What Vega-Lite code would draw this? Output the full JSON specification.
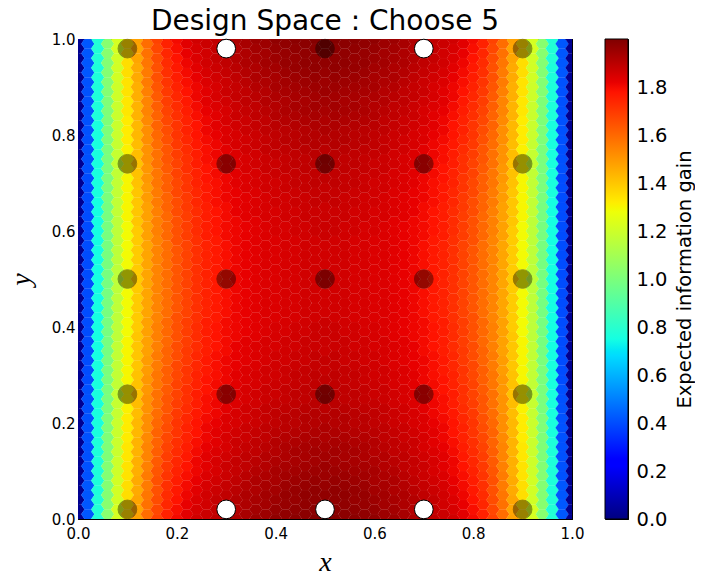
{
  "$schema": "https://vega.github.io/schema/vega-lite/v6.json",
  "background": "white",
  "padding": {"left": 6, "top": 7, "right": 0, "bottom": 0},
  "config": {
    "font": "DejaVu Sans",
    "view": {"stroke": "black", "strokeWidth": 1},
    "axis": {"labelFont": "DejaVu Sans", "labelFontSize": 15, "labelColor": "black", "titleColor": "black", "domainColor": "black", "tickColor": "black", "grid": false, "tickSize": -5, "labelPadding": 12, "labelFlush": false},
    "concat": {"spacing": 19}
  },
  "datasets": {
    "cols": [
      {"x":0,"p":0,"par":0},{"x":0.02,"p":1,"par":1},{"x":0.04,"p":2,"par":0},{"x":0.06,"p":3,"par":1},{"x":0.08,"p":4,"par":0},{"x":0.1,"p":5,"par":1},{"x":0.12,"p":6,"par":0},{"x":0.14,"p":7,"par":1},{"x":0.16,"p":8,"par":0},{"x":0.18,"p":9,"par":1},{"x":0.2,"p":10,"par":0},{"x":0.22,"p":11,"par":1},{"x":0.24,"p":12,"par":0},{"x":0.26,"p":13,"par":1},{"x":0.28,"p":14,"par":0},{"x":0.3,"p":15,"par":1},{"x":0.32,"p":16,"par":0},{"x":0.34,"p":17,"par":1},{"x":0.36,"p":18,"par":0},{"x":0.38,"p":19,"par":1},{"x":0.4,"p":20,"par":0},{"x":0.42,"p":21,"par":1},{"x":0.44,"p":22,"par":0},{"x":0.46,"p":23,"par":1},{"x":0.48,"p":24,"par":0},{"x":0.5,"p":25,"par":1},{"x":0.52,"p":24,"par":0},{"x":0.54,"p":23,"par":1},{"x":0.56,"p":22,"par":0},{"x":0.58,"p":21,"par":1},{"x":0.6,"p":20,"par":0},{"x":0.62,"p":19,"par":1},{"x":0.64,"p":18,"par":0},{"x":0.66,"p":17,"par":1},{"x":0.68,"p":16,"par":0},{"x":0.7,"p":15,"par":1},{"x":0.72,"p":14,"par":0},{"x":0.74,"p":13,"par":1},{"x":0.76,"p":12,"par":0},{"x":0.78,"p":11,"par":1},{"x":0.8,"p":10,"par":0},{"x":0.82,"p":9,"par":1},{"x":0.84,"p":8,"par":0},{"x":0.86,"p":7,"par":1},{"x":0.88,"p":6,"par":0},{"x":0.9,"p":5,"par":1},{"x":0.92,"p":4,"par":0},{"x":0.94,"p":3,"par":1},{"x":0.96,"p":2,"par":0},{"x":0.98,"p":1,"par":1},{"x":1,"p":0,"par":0}
    ],
    "ys": [
      {"par":0,"y":[0,0.02,0.04,0.06,0.08,0.1,0.12,0.14,0.16,0.18,0.2,0.22,0.24,0.26,0.28,0.3,0.32,0.34,0.36,0.38,0.4,0.42,0.44,0.46,0.48,0.5,0.52,0.54,0.56,0.58,0.6,0.62,0.64,0.66,0.68,0.7,0.72,0.74,0.76,0.78,0.8,0.82,0.84,0.86,0.88,0.9,0.92,0.94,0.96,0.98,1]},
      {"par":1,"y":[-0.01,0.01,0.03,0.05,0.07,0.09,0.11,0.13,0.15,0.17,0.19,0.21,0.23,0.25,0.27,0.29,0.31,0.33,0.35,0.37,0.39,0.41,0.43,0.45,0.47,0.49,0.51,0.53,0.55,0.57,0.59,0.61,0.63,0.65,0.67,0.69,0.71,0.73,0.75,0.77,0.79,0.81,0.83,0.85,0.87,0.89,0.91,0.93,0.95,0.97,0.99,1.01]}
    ],
    "profiles": [
      {"p":0,"v":[0.03,0.03,0.03,0.03,0.03,0.03,0.03,0.03,0.03,0.03,0.03,0.03,0.03,0.03,0.03,0.03,0.03,0.03,0.03,0.03,0.03,0.03,0.03,0.03,0.03,0.03,0.03,0.03,0.03,0.03,0.03,0.03,0.03,0.03,0.03,0.03,0.03,0.03,0.03,0.03,0.03,0.03,0.03,0.03,0.03,0.03,0.03,0.03,0.03,0.03,0.03]},
      {"p":1,"v":[0.42,0.42,0.42,0.42,0.42,0.41,0.41,0.41,0.41,0.41,0.41,0.41,0.41,0.41,0.41,0.4,0.4,0.4,0.4,0.4,0.4,0.4,0.4,0.4,0.4,0.4,0.4,0.4,0.4,0.4,0.4,0.4,0.4,0.4,0.4,0.4,0.4,0.41,0.41,0.41,0.41,0.41,0.41,0.41,0.41,0.41,0.41,0.42,0.42,0.42,0.42,0.42]},
      {"p":2,"v":[0.78,0.78,0.78,0.77,0.77,0.77,0.77,0.77,0.77,0.76,0.76,0.76,0.76,0.76,0.76,0.76,0.76,0.75,0.75,0.75,0.75,0.75,0.75,0.75,0.75,0.75,0.75,0.75,0.75,0.75,0.75,0.75,0.75,0.75,0.76,0.76,0.76,0.76,0.76,0.76,0.76,0.76,0.77,0.77,0.77,0.77,0.77,0.77,0.78,0.78,0.78]},
      {"p":3,"v":[1.03,1.03,1.03,1.02,1.02,1.02,1.02,1.01,1.01,1.01,1.01,1.01,1,1,1,1,1,1,0.99,0.99,0.99,0.99,0.99,0.99,0.99,0.99,0.99,0.99,0.99,0.99,0.99,0.99,0.99,0.99,1,1,1,1,1,1,1.01,1.01,1.01,1.01,1.01,1.02,1.02,1.02,1.02,1.03,1.03,1.03]},
      {"p":4,"v":[1.22,1.22,1.21,1.21,1.21,1.2,1.2,1.19,1.19,1.19,1.19,1.18,1.18,1.18,1.17,1.17,1.17,1.17,1.17,1.16,1.16,1.16,1.16,1.16,1.16,1.16,1.16,1.16,1.16,1.16,1.16,1.16,1.17,1.17,1.17,1.17,1.17,1.18,1.18,1.18,1.19,1.19,1.19,1.19,1.2,1.2,1.21,1.21,1.21,1.22,1.22]},
      {"p":5,"v":[1.36,1.36,1.35,1.35,1.35,1.34,1.34,1.33,1.33,1.32,1.32,1.32,1.31,1.31,1.31,1.3,1.3,1.3,1.3,1.3,1.29,1.29,1.29,1.29,1.29,1.29,1.29,1.29,1.29,1.29,1.29,1.29,1.3,1.3,1.3,1.3,1.3,1.31,1.31,1.31,1.32,1.32,1.32,1.33,1.33,1.34,1.34,1.35,1.35,1.35,1.36,1.36]},
      {"p":6,"v":[1.48,1.47,1.47,1.46,1.46,1.45,1.45,1.44,1.44,1.43,1.43,1.42,1.42,1.41,1.41,1.41,1.4,1.4,1.4,1.4,1.39,1.39,1.39,1.39,1.39,1.39,1.39,1.39,1.39,1.39,1.39,1.4,1.4,1.4,1.4,1.41,1.41,1.41,1.42,1.42,1.43,1.43,1.44,1.44,1.45,1.45,1.46,1.46,1.47,1.47,1.48]},
      {"p":7,"v":[1.59,1.59,1.58,1.57,1.56,1.56,1.55,1.54,1.54,1.53,1.52,1.52,1.51,1.51,1.5,1.5,1.49,1.49,1.48,1.48,1.48,1.48,1.47,1.47,1.47,1.47,1.47,1.47,1.47,1.47,1.48,1.48,1.48,1.48,1.49,1.49,1.5,1.5,1.51,1.51,1.52,1.52,1.53,1.54,1.54,1.55,1.56,1.56,1.57,1.58,1.59,1.59]},
      {"p":8,"v":[1.68,1.67,1.66,1.65,1.65,1.64,1.63,1.62,1.61,1.61,1.6,1.59,1.58,1.58,1.57,1.57,1.56,1.56,1.55,1.55,1.55,1.54,1.54,1.54,1.54,1.54,1.54,1.54,1.54,1.54,1.55,1.55,1.55,1.56,1.56,1.57,1.57,1.58,1.58,1.59,1.6,1.61,1.61,1.62,1.63,1.64,1.65,1.65,1.66,1.67,1.68]},
      {"p":9,"v":[1.75,1.75,1.74,1.73,1.72,1.71,1.7,1.69,1.68,1.67,1.66,1.65,1.64,1.64,1.63,1.62,1.62,1.61,1.61,1.6,1.6,1.6,1.59,1.59,1.59,1.59,1.59,1.59,1.59,1.59,1.6,1.6,1.6,1.61,1.61,1.62,1.62,1.63,1.64,1.64,1.65,1.66,1.67,1.68,1.69,1.7,1.71,1.72,1.73,1.74,1.75,1.75]},
      {"p":10,"v":[1.8,1.79,1.78,1.77,1.76,1.75,1.74,1.73,1.72,1.71,1.71,1.7,1.69,1.68,1.68,1.67,1.67,1.66,1.66,1.65,1.65,1.65,1.64,1.64,1.64,1.64,1.64,1.64,1.64,1.65,1.65,1.65,1.66,1.66,1.67,1.67,1.68,1.68,1.69,1.7,1.71,1.71,1.72,1.73,1.74,1.75,1.76,1.77,1.78,1.79,1.8]},
      {"p":11,"v":[1.83,1.83,1.82,1.81,1.8,1.79,1.78,1.77,1.76,1.75,1.75,1.74,1.73,1.72,1.72,1.71,1.71,1.7,1.7,1.69,1.69,1.69,1.68,1.68,1.68,1.68,1.68,1.68,1.68,1.68,1.69,1.69,1.69,1.7,1.7,1.71,1.71,1.72,1.72,1.73,1.74,1.75,1.75,1.76,1.77,1.78,1.79,1.8,1.81,1.82,1.83,1.83]},
      {"p":12,"v":[1.86,1.85,1.84,1.83,1.82,1.81,1.81,1.8,1.79,1.78,1.78,1.77,1.76,1.76,1.75,1.75,1.74,1.74,1.73,1.73,1.73,1.72,1.72,1.72,1.72,1.72,1.72,1.72,1.72,1.72,1.73,1.73,1.73,1.74,1.74,1.75,1.75,1.76,1.76,1.77,1.78,1.78,1.79,1.8,1.81,1.81,1.82,1.83,1.84,1.85,1.86]},
      {"p":13,"v":[1.88,1.87,1.86,1.86,1.85,1.84,1.83,1.83,1.82,1.81,1.81,1.8,1.79,1.79,1.78,1.78,1.77,1.77,1.76,1.76,1.76,1.76,1.75,1.75,1.75,1.75,1.75,1.75,1.75,1.75,1.76,1.76,1.76,1.76,1.77,1.77,1.78,1.78,1.79,1.79,1.8,1.81,1.81,1.82,1.83,1.83,1.84,1.85,1.86,1.86,1.87,1.88]},
      {"p":14,"v":[1.89,1.88,1.88,1.87,1.86,1.85,1.85,1.84,1.83,1.83,1.82,1.81,1.81,1.8,1.8,1.79,1.79,1.79,1.78,1.78,1.78,1.77,1.77,1.77,1.77,1.77,1.77,1.77,1.77,1.77,1.78,1.78,1.78,1.79,1.79,1.79,1.8,1.8,1.81,1.81,1.82,1.83,1.83,1.84,1.85,1.85,1.86,1.87,1.88,1.88,1.89]},
      {"p":15,"v":[1.91,1.9,1.89,1.89,1.88,1.87,1.87,1.86,1.85,1.85,1.84,1.84,1.83,1.82,1.82,1.81,1.81,1.81,1.8,1.8,1.8,1.8,1.79,1.79,1.79,1.79,1.79,1.79,1.79,1.79,1.8,1.8,1.8,1.8,1.81,1.81,1.81,1.82,1.82,1.83,1.84,1.84,1.85,1.85,1.86,1.87,1.87,1.88,1.89,1.89,1.9,1.91]},
      {"p":16,"v":[1.92,1.91,1.91,1.9,1.89,1.88,1.88,1.87,1.87,1.86,1.85,1.85,1.84,1.84,1.83,1.83,1.82,1.82,1.82,1.81,1.81,1.81,1.81,1.81,1.81,1.81,1.81,1.81,1.81,1.81,1.81,1.81,1.82,1.82,1.82,1.83,1.83,1.84,1.84,1.85,1.85,1.86,1.87,1.87,1.88,1.88,1.89,1.9,1.91,1.91,1.92]},
      {"p":17,"v":[1.94,1.93,1.92,1.92,1.91,1.9,1.89,1.89,1.88,1.87,1.87,1.86,1.86,1.85,1.85,1.84,1.84,1.83,1.83,1.83,1.82,1.82,1.82,1.82,1.82,1.82,1.82,1.82,1.82,1.82,1.82,1.82,1.83,1.83,1.83,1.84,1.84,1.85,1.85,1.86,1.86,1.87,1.87,1.88,1.89,1.89,1.9,1.91,1.92,1.92,1.93,1.94]},
      {"p":18,"v":[1.95,1.94,1.93,1.92,1.92,1.91,1.9,1.89,1.89,1.88,1.87,1.87,1.86,1.86,1.85,1.85,1.84,1.84,1.84,1.83,1.83,1.83,1.83,1.83,1.83,1.83,1.83,1.83,1.83,1.83,1.83,1.83,1.84,1.84,1.84,1.85,1.85,1.86,1.86,1.87,1.87,1.88,1.89,1.89,1.9,1.91,1.92,1.92,1.93,1.94,1.95]},
      {"p":19,"v":[1.96,1.95,1.94,1.94,1.93,1.92,1.91,1.91,1.9,1.89,1.89,1.88,1.88,1.87,1.87,1.86,1.86,1.85,1.85,1.85,1.84,1.84,1.84,1.84,1.84,1.84,1.84,1.84,1.84,1.84,1.84,1.84,1.85,1.85,1.85,1.86,1.86,1.87,1.87,1.88,1.88,1.89,1.89,1.9,1.91,1.91,1.92,1.93,1.94,1.94,1.95,1.96]},
      {"p":20,"v":[1.97,1.96,1.95,1.94,1.93,1.93,1.92,1.91,1.91,1.9,1.89,1.89,1.88,1.87,1.87,1.86,1.86,1.86,1.85,1.85,1.85,1.84,1.84,1.84,1.84,1.84,1.84,1.84,1.84,1.84,1.85,1.85,1.85,1.86,1.86,1.86,1.87,1.87,1.88,1.89,1.89,1.9,1.91,1.91,1.92,1.93,1.93,1.94,1.95,1.96,1.97]},
      {"p":21,"v":[1.98,1.97,1.96,1.96,1.95,1.94,1.93,1.92,1.92,1.91,1.9,1.9,1.89,1.88,1.88,1.87,1.87,1.86,1.86,1.86,1.85,1.85,1.85,1.85,1.85,1.85,1.85,1.85,1.85,1.85,1.85,1.85,1.86,1.86,1.86,1.87,1.87,1.88,1.88,1.89,1.9,1.9,1.91,1.92,1.92,1.93,1.94,1.95,1.96,1.96,1.97,1.98]},
      {"p":22,"v":[1.98,1.97,1.96,1.96,1.95,1.94,1.93,1.93,1.92,1.91,1.9,1.9,1.89,1.89,1.88,1.88,1.87,1.87,1.86,1.86,1.86,1.85,1.85,1.85,1.85,1.85,1.85,1.85,1.85,1.85,1.86,1.86,1.86,1.87,1.87,1.88,1.88,1.89,1.89,1.9,1.9,1.91,1.92,1.93,1.93,1.94,1.95,1.96,1.96,1.97,1.98]},
      {"p":23,"v":[1.99,1.98,1.97,1.97,1.96,1.95,1.94,1.93,1.93,1.92,1.91,1.91,1.9,1.89,1.89,1.88,1.88,1.87,1.87,1.87,1.86,1.86,1.86,1.86,1.86,1.86,1.86,1.86,1.86,1.86,1.86,1.86,1.87,1.87,1.87,1.88,1.88,1.89,1.89,1.9,1.91,1.91,1.92,1.93,1.93,1.94,1.95,1.96,1.97,1.97,1.98,1.99]},
      {"p":24,"v":[1.99,1.98,1.97,1.97,1.96,1.95,1.94,1.94,1.93,1.92,1.91,1.91,1.9,1.9,1.89,1.89,1.88,1.88,1.87,1.87,1.87,1.86,1.86,1.86,1.86,1.86,1.86,1.86,1.86,1.86,1.87,1.87,1.87,1.88,1.88,1.89,1.89,1.9,1.9,1.91,1.91,1.92,1.93,1.94,1.94,1.95,1.96,1.97,1.97,1.98,1.99]},
      {"p":25,"v":[1.99,1.99,1.98,1.97,1.96,1.95,1.95,1.94,1.93,1.92,1.92,1.91,1.9,1.9,1.89,1.89,1.88,1.88,1.87,1.87,1.87,1.87,1.86,1.86,1.86,1.86,1.86,1.86,1.86,1.86,1.87,1.87,1.87,1.87,1.88,1.88,1.89,1.89,1.9,1.9,1.91,1.92,1.92,1.93,1.94,1.95,1.95,1.96,1.97,1.98,1.99,1.99]}
    ],
    "designs": [
      {"x":0.1,"y":0.02,"chosen":"no"},{"x":0.3,"y":0.02,"chosen":"yes"},{"x":0.5,"y":0.02,"chosen":"yes"},{"x":0.7,"y":0.02,"chosen":"yes"},{"x":0.9,"y":0.02,"chosen":"no"},
      {"x":0.1,"y":0.26,"chosen":"no"},{"x":0.3,"y":0.26,"chosen":"no"},{"x":0.5,"y":0.26,"chosen":"no"},{"x":0.7,"y":0.26,"chosen":"no"},{"x":0.9,"y":0.26,"chosen":"no"},
      {"x":0.1,"y":0.5,"chosen":"no"},{"x":0.3,"y":0.5,"chosen":"no"},{"x":0.5,"y":0.5,"chosen":"no"},{"x":0.7,"y":0.5,"chosen":"no"},{"x":0.9,"y":0.5,"chosen":"no"},
      {"x":0.1,"y":0.74,"chosen":"no"},{"x":0.3,"y":0.74,"chosen":"no"},{"x":0.5,"y":0.74,"chosen":"no"},{"x":0.7,"y":0.74,"chosen":"no"},{"x":0.9,"y":0.74,"chosen":"no"},
      {"x":0.1,"y":0.98,"chosen":"no"},{"x":0.3,"y":0.98,"chosen":"yes"},{"x":0.5,"y":0.98,"chosen":"no"},{"x":0.7,"y":0.98,"chosen":"yes"},{"x":0.9,"y":0.98,"chosen":"no"}
    ]
  },
  "hconcat": [
    {
      "title": {"text": "Design Space : Choose 5", "fontSize": 28, "fontWeight": "normal", "font": "DejaVu Sans", "color": "black", "frame": "group", "anchor": "middle", "offset": -4},
      "width": 494,
      "height": 480,
      "layer": [
        {
          "data": {"name": "cols"},
          "transform": [
            {"lookup": "p", "from": {"data": {"name": "profiles"}, "key": "p", "fields": ["v"]}},
            {"lookup": "par", "from": {"data": {"name": "ys"}, "key": "par", "fields": ["y"]}},
            {"flatten": ["y", "v"]}
          ],
          "mark": {"type": "point", "shape": "M-1,0L-0.5,-0.73L0.5,-0.73L1,0L0.5,0.73L-0.5,0.73Z", "size": 180, "filled": true, "opacity": 1, "stroke": "#ffffff", "strokeWidth": 0.5, "strokeOpacity": 0.06, "clip": true},
          "encoding": {
            "x": {"field": "x", "type": "quantitative", "scale": {"domain": [0, 1], "nice": false, "zero": false},
                  "axis": {"orient": "bottom", "values": [0, 0.2, 0.4, 0.6, 0.8, 1], "format": ".1f", "title": "x", "titleFont": "Liberation Serif", "titleFontStyle": "italic", "titleFontWeight": "normal", "titleFontSize": 28, "titlePadding": 7}},
            "y": {"field": "y", "type": "quantitative", "scale": {"domain": [0, 1], "nice": false, "zero": false},
                  "axis": {"orient": "left", "values": [0, 0.2, 0.4, 0.6, 0.8, 1], "format": ".1f", "labelPadding": 8, "title": "y", "titleFont": "Liberation Serif", "titleFontStyle": "italic", "titleFontWeight": "normal", "titleFontSize": 28, "titlePadding": 16}},
            "fill": {"field": "v", "type": "quantitative",
                     "scale": {"domain": [0, 0.22, 0.25, 0.68, 0.7, 0.75, 1.28, 1.3, 1.32, 1.78, 1.82, 2.0], "range": ["#000080", "#0000ff", "#0000ff", "#00dbff", "#00e5f7", "#15ffe2", "#eeff08", "#f7f600", "#ffec00", "#ff1300", "#e80000", "#800000"], "interpolate": "rgb"},
                     "legend": null}
          }
        },
        {
          "data": {"name": "designs"},
          "mark": {"type": "point", "shape": "circle", "filled": true, "size": 350, "stroke": "black", "strokeWidth": 1},
          "encoding": {
            "x": {"field": "x", "type": "quantitative", "scale": {"domain": [0, 1], "nice": false, "zero": false},
                  "axis": {"orient": "top", "values": [0, 0.2, 0.4, 0.6, 0.8, 1], "labels": false, "title": null}},
            "y": {"field": "y", "type": "quantitative", "scale": {"domain": [0, 1], "nice": false, "zero": false},
                  "axis": {"orient": "right", "values": [0, 0.2, 0.4, 0.6, 0.8, 1], "labels": false, "title": null}},
            "color": {"field": "chosen", "type": "nominal", "scale": {"domain": ["yes", "no"], "range": ["#ffffff", "#000000"]}, "legend": null},
            "opacity": {"field": "chosen", "type": "nominal", "scale": {"domain": ["yes", "no"], "range": [1, 0.4]}, "legend": null}
          }
        }
      ],
      "resolve": {"axis": {"x": "independent", "y": "independent"}}
    },
    {
      "width": 23,
      "height": 480,
      "data": {"values": [{"bar": "colorbar"}]},
      "mark": {"type": "rect", "stroke": "black", "strokeWidth": 1,
               "fill": {"gradient": "linear", "x1": 0, "y1": 1, "x2": 0, "y2": 0,
                        "stops": [{"offset": 0, "color": "#000080"}, {"offset": 0.11, "color": "#0000ff"}, {"offset": 0.125, "color": "#0000ff"}, {"offset": 0.34, "color": "#00dbff"}, {"offset": 0.35, "color": "#00e5f7"}, {"offset": 0.375, "color": "#15ffe2"}, {"offset": 0.64, "color": "#eeff08"}, {"offset": 0.65, "color": "#f7f600"}, {"offset": 0.66, "color": "#ffec00"}, {"offset": 0.89, "color": "#ff1300"}, {"offset": 0.91, "color": "#e80000"}, {"offset": 1, "color": "#800000"}]}},
      "encoding": {
        "y": {"datum": 0, "type": "quantitative", "scale": {"domain": [0, 2], "nice": false, "zero": false},
              "axis": {"orient": "right", "values": [0, 0.2, 0.4, 0.6, 0.8, 1, 1.2, 1.4, 1.6, 1.8], "format": ".1f", "labelFontSize": 19.5, "labelPadding": 13, "title": "Expected information gain", "titleFont": "DejaVu Sans", "titleFontSize": 19.5, "titleFontWeight": "normal", "titleAngle": -90, "titleBaseline": "top", "titlePadding": 8}},
        "y2": {"datum": 2}
      }
    }
  ]
}
